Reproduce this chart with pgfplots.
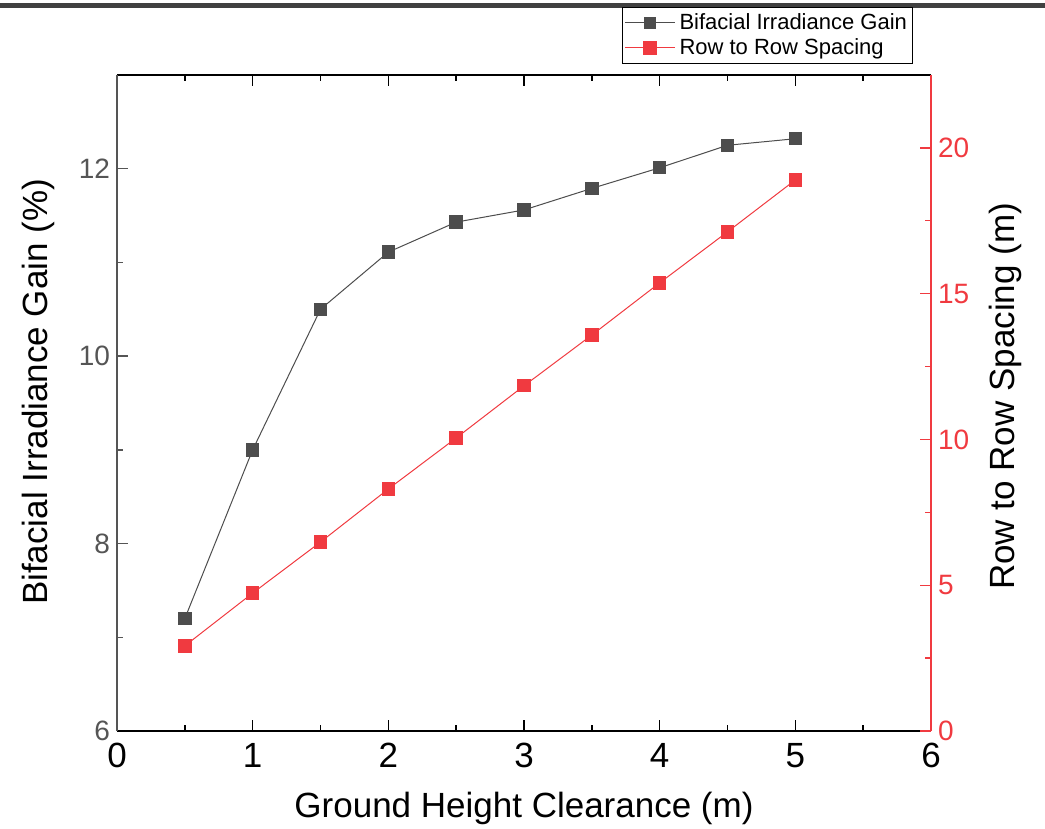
\documentclass[border=0pt]{standalone}
\usepackage{fontspec}
\setmainfont{Liberation Sans}
\usepackage{pgfplots}
\pgfplotsset{compat=1.18}
\definecolor{myred}{RGB}{240,58,64}
\definecolor{mydark}{RGB}{77,77,77}
\definecolor{axgray}{RGB}{85,85,85}
\definecolor{bargray}{RGB}{64,64,64}
\begin{document}
\begin{tikzpicture}
\useasboundingbox (-58.5pt,-49pt) rectangle (464pt,365.5pt);
\fill[bargray] (-58.5pt,361.5pt) rectangle (464pt,364pt);
\begin{axis}[
  at={(0pt,0pt)}, anchor=south west,
  scale only axis, width=407pt, height=328pt,
  xmin=0, xmax=6, ymin=6, ymax=13,
  axis x line*=box, axis y line*=left,
  x axis line style={black, line width=0.7pt},
  y axis line style={axgray, line width=0.7pt},
  xtick={0,1,...,6}, minor x tick num=1,
  ytick={6,8,10,12}, minor y tick num=1,
  xtick pos=both, ytick pos=left,
  tick align=inside,
  major tick length=5.5pt, minor tick length=3pt,
  x tick style={black, line width=0.7pt},
  y tick style={axgray, line width=0.7pt},
  /pgf/number format/assume math mode=true,
  x tick label style={font=\fontsize{17.5}{20}\selectfont, black, yshift=-2.5pt},
  y tick label style={font=\fontsize{14}{16}\selectfont, axgray},
  xlabel={Ground Height Clearance (m)},
  ylabel={Bifacial Irradiance Gain (\%)},
  xlabel style={font=\fontsize{17.5}{20}\selectfont, at={(axis description cs:0.5,-0.1174)}, anchor=center},
  ylabel style={font=\fontsize{17.5}{20}\selectfont, at={(axis description cs:-0.0963,0.517)}, anchor=center, rotate=0},
]
\addplot[mydark, line width=0.5pt, mark=square*, mark size=3.1pt, mark options={fill=mydark, draw=mydark}]
coordinates {(0.5,7.20)(1,9.00)(1.5,10.50)(2,11.11)(2.5,11.43)(3,11.56)(3.5,11.79)(4,12.01)(4.5,12.25)(5,12.32)};
\end{axis}
\begin{axis}[
  at={(0pt,0pt)}, anchor=south west,
  scale only axis, width=407pt, height=328pt,
  xmin=0, xmax=6, ymin=0, ymax=22.5,
  axis x line=none, axis y line*=right,
  y axis line style={myred, line width=0.7pt},
  ytick={0,5,...,20}, minor y tick num=1,
  ytick pos=right,
  tick align=inside,
  major tick length=5.5pt, minor tick length=3pt,
  y tick style={myred, line width=0.7pt},
  /pgf/number format/assume math mode=true,
  y tick label style={font=\fontsize{14}{16}\selectfont, myred},
  ylabel={Row to Row Spacing (m)},
  ylabel style={font=\fontsize{17.5}{20}\selectfont, at={(axis description cs:1.0909,0.51)}, anchor=center, rotate=0},
  legend style={at={(axis description cs:0.6204,1.1037)}, anchor=north west,
    draw=black, line width=0.5pt, font=\fontsize{11}{13}\selectfont,
    inner sep=1pt, row sep=-1pt, cells={anchor=west}},
  legend image code/.code={
    \draw[#1, mark=none] (0pt,0pt) -- (25pt,0pt);
    \draw[#1, only marks] plot coordinates {(12.5pt,0pt)};
  },
]
\addlegendimage{mydark, line width=0.5pt, mark=square*, mark size=2.7pt, mark options={fill=mydark, draw=mydark}}
\addlegendentry{Bifacial Irradiance Gain}
\addplot[myred, line width=0.5pt, mark=square*, mark size=3.1pt, mark options={fill=myred, draw=myred}]
coordinates {(0.5,2.92)(1,4.73)(1.5,6.48)(2,8.30)(2.5,10.05)(3,11.84)(3.5,13.58)(4,15.37)(4.5,17.12)(5,18.90)};
\addlegendentry{Row to Row Spacing}
\end{axis}
\end{tikzpicture}
\end{document}
